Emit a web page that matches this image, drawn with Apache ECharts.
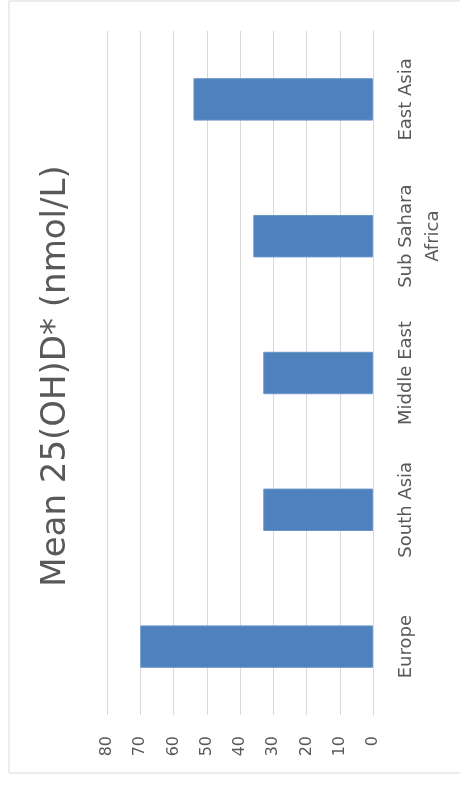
<!DOCTYPE html>
<html>
<head>
<meta charset="utf-8">
<script src="https://cdn.jsdelivr.net/npm/echarts@6/dist/echarts.min.js"></script>
<style>html,body{margin:0;padding:0;background:#fff;}#c{width:460px;height:785px;}</style>
</head>
<body>
<div id="c"></div>
<script>
const categories = ['Europe', 'South Asia', 'Middle East', 'Sub Sahara\nAfrica', 'East Asia'];
const values = [70, 33, 33, 36, 54];
const titleText = 'Mean 25(OH)D* (nmol/L)';

const chart = echarts.init(document.getElementById('c'), null, {renderer: 'canvas'});
chart.setOption({
  animation: false,
  backgroundColor: '#ffffff',
  grid: {left: 107, right: 87, top: 31, bottom: 70, containLabel: false},
  xAxis: {
    type: 'value', inverse: true, min: 0, max: 80, interval: 10, position: 'bottom',
    axisLine: {show: false}, axisTick: {show: false},
    splitLine: {show: true, lineStyle: {color: '#d9d9d9', width: 1}},
    axisLabel: {rotate: 90, margin: 21, color: '#595959', fontFamily: 'DejaVu Sans', fontSize: 16}
  },
  yAxis: {
    type: 'category', position: 'right', data: categories,
    axisLine: {show: true, lineStyle: {color: '#d9d9d9', width: 1}},
    axisTick: {show: false},
    splitLine: {show: false},
    axisLabel: {rotate: 90, margin: 20, color: '#595959', fontFamily: 'DejaVu Sans', fontSize: 18, lineHeight: 27}
  },
  series: [{
    type: 'bar', data: values, barCategoryGap: '69%',
    itemStyle: {color: '#4f81bd', borderColor: '#6a94c9', borderWidth: 1}
  }],
  graphic: [
    {type: 'rect', shape: {x: 9, y: 1, width: 470, height: 772}, style: {fill: 'none', stroke: '#d9d9d9', lineWidth: 1}, silent: true},
    {type: 'text', x: 56, y: 376, rotation: Math.PI / 2,
     style: {text: titleText, font: '34px "DejaVu Sans"', fill: '#595959', textAlign: 'center', textVerticalAlign: 'middle'}}
  ]
});
</script>
</body>
</html>
